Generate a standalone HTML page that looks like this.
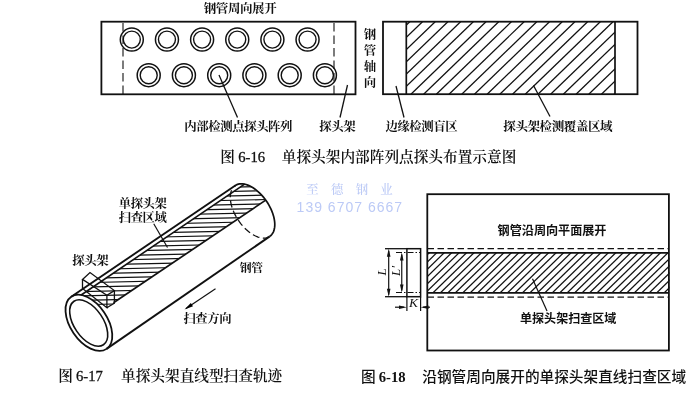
<!DOCTYPE html>
<html lang="zh-CN"><head><meta charset="utf-8"><title>图 6-16 ~ 6-18</title>
<style>
html,body{margin:0;padding:0;background:#fff;}
body{width:700px;height:400px;overflow:hidden;}
svg{display:block;will-change:transform;transform:translateZ(0);}
svg text{font-family:'Liberation Serif','Noto Serif CJK SC',serif;fill:#111;}
</style></head><body>
<svg width="700" height="400" viewBox="0 0 700 400">
<rect width="700" height="400" fill="#fff"/>
<g fill="none" stroke="#111" stroke-linecap="butt">
<g id="f16a">
<rect x="101.4" y="21.7" width="254.1" height="72.6" stroke-width="1.8"/>
<line x1="123.00" y1="23.00" x2="123.00" y2="94.50" stroke-width="1.1" stroke-dasharray="8.5 4"/>
<line x1="334.00" y1="23.00" x2="334.00" y2="94.50" stroke-width="1.1" stroke-dasharray="8.5 4"/>
<circle cx="131.8" cy="39.6" r="11.5" stroke-width="1.5"/><circle cx="131.8" cy="39.6" r="8.5" stroke-width="1.4"/>
<circle cx="166.95000000000002" cy="39.6" r="11.5" stroke-width="1.5"/><circle cx="166.95000000000002" cy="39.6" r="8.5" stroke-width="1.4"/>
<circle cx="202.10000000000002" cy="39.6" r="11.5" stroke-width="1.5"/><circle cx="202.10000000000002" cy="39.6" r="8.5" stroke-width="1.4"/>
<circle cx="237.25" cy="39.6" r="11.5" stroke-width="1.5"/><circle cx="237.25" cy="39.6" r="8.5" stroke-width="1.4"/>
<circle cx="272.4" cy="39.6" r="11.5" stroke-width="1.5"/><circle cx="272.4" cy="39.6" r="8.5" stroke-width="1.4"/>
<circle cx="307.55" cy="39.6" r="11.5" stroke-width="1.5"/><circle cx="307.55" cy="39.6" r="8.5" stroke-width="1.4"/>
<circle cx="148.7" cy="75.2" r="11.5" stroke-width="1.5"/><circle cx="148.7" cy="75.2" r="8.5" stroke-width="1.4"/>
<circle cx="183.9" cy="75.2" r="11.5" stroke-width="1.5"/><circle cx="183.9" cy="75.2" r="8.5" stroke-width="1.4"/>
<circle cx="219.2" cy="75.2" r="11.5" stroke-width="1.5"/><circle cx="219.2" cy="75.2" r="8.5" stroke-width="1.4"/>
<circle cx="254.4" cy="75.2" r="11.5" stroke-width="1.5"/><circle cx="254.4" cy="75.2" r="8.5" stroke-width="1.4"/>
<circle cx="289.7" cy="75.2" r="11.5" stroke-width="1.5"/><circle cx="289.7" cy="75.2" r="8.5" stroke-width="1.4"/>
<circle cx="324.9" cy="75.2" r="11.5" stroke-width="1.5"/><circle cx="324.9" cy="75.2" r="8.5" stroke-width="1.4"/>
<line x1="219.00" y1="75.00" x2="237.50" y2="117.50" stroke-width="1.3" />
<line x1="347.50" y1="85.00" x2="340.00" y2="117.50" stroke-width="1.3" />
</g>
<g id="f16b">
<clipPath id="c16"><rect x="406" y="22" width="209" height="72.5"/></clipPath>
<g clip-path="url(#c16)">
<line x1="233.12" y1="94.20" x2="308.20" y2="21.70" stroke-width="1.25" />
<line x1="245.82" y1="94.20" x2="320.90" y2="21.70" stroke-width="1.25" />
<line x1="258.52" y1="94.20" x2="333.60" y2="21.70" stroke-width="1.25" />
<line x1="271.22" y1="94.20" x2="346.30" y2="21.70" stroke-width="1.25" />
<line x1="283.92" y1="94.20" x2="359.00" y2="21.70" stroke-width="1.25" />
<line x1="296.62" y1="94.20" x2="371.70" y2="21.70" stroke-width="1.25" />
<line x1="309.32" y1="94.20" x2="384.40" y2="21.70" stroke-width="1.25" />
<line x1="322.02" y1="94.20" x2="397.10" y2="21.70" stroke-width="1.25" />
<line x1="334.72" y1="94.20" x2="409.80" y2="21.70" stroke-width="1.25" />
<line x1="347.42" y1="94.20" x2="422.50" y2="21.70" stroke-width="1.25" />
<line x1="360.12" y1="94.20" x2="435.20" y2="21.70" stroke-width="1.25" />
<line x1="372.82" y1="94.20" x2="447.90" y2="21.70" stroke-width="1.25" />
<line x1="385.52" y1="94.20" x2="460.60" y2="21.70" stroke-width="1.25" />
<line x1="398.22" y1="94.20" x2="473.30" y2="21.70" stroke-width="1.25" />
<line x1="410.92" y1="94.20" x2="486.00" y2="21.70" stroke-width="1.25" />
<line x1="423.62" y1="94.20" x2="498.70" y2="21.70" stroke-width="1.25" />
<line x1="436.32" y1="94.20" x2="511.40" y2="21.70" stroke-width="1.25" />
<line x1="449.02" y1="94.20" x2="524.10" y2="21.70" stroke-width="1.25" />
<line x1="461.72" y1="94.20" x2="536.80" y2="21.70" stroke-width="1.25" />
<line x1="474.42" y1="94.20" x2="549.50" y2="21.70" stroke-width="1.25" />
<line x1="487.12" y1="94.20" x2="562.20" y2="21.70" stroke-width="1.25" />
<line x1="499.82" y1="94.20" x2="574.90" y2="21.70" stroke-width="1.25" />
<line x1="512.52" y1="94.20" x2="587.60" y2="21.70" stroke-width="1.25" />
<line x1="525.22" y1="94.20" x2="600.30" y2="21.70" stroke-width="1.25" />
<line x1="537.92" y1="94.20" x2="613.00" y2="21.70" stroke-width="1.25" />
<line x1="550.62" y1="94.20" x2="625.70" y2="21.70" stroke-width="1.25" />
<line x1="563.32" y1="94.20" x2="638.40" y2="21.70" stroke-width="1.25" />
<line x1="576.02" y1="94.20" x2="651.10" y2="21.70" stroke-width="1.25" />
<line x1="588.72" y1="94.20" x2="663.80" y2="21.70" stroke-width="1.25" />
<line x1="601.42" y1="94.20" x2="676.50" y2="21.70" stroke-width="1.25" />
<line x1="614.12" y1="94.20" x2="689.20" y2="21.70" stroke-width="1.25" />
<line x1="626.82" y1="94.20" x2="701.90" y2="21.70" stroke-width="1.25" />
<line x1="639.52" y1="94.20" x2="714.60" y2="21.70" stroke-width="1.25" />
<line x1="652.22" y1="94.20" x2="727.30" y2="21.70" stroke-width="1.25" />
<line x1="664.92" y1="94.20" x2="740.00" y2="21.70" stroke-width="1.25" />
<line x1="677.62" y1="94.20" x2="752.70" y2="21.70" stroke-width="1.25" />
<line x1="690.32" y1="94.20" x2="765.40" y2="21.70" stroke-width="1.25" />
<line x1="703.02" y1="94.20" x2="778.10" y2="21.70" stroke-width="1.25" />
</g>
<rect x="383" y="21.7" width="254.5" height="72.5" stroke-width="1.8"/>
<line x1="406.30" y1="22.00" x2="406.30" y2="94.00" stroke-width="1.7" />
<line x1="615.00" y1="22.00" x2="615.00" y2="94.00" stroke-width="1.7" />
<line x1="396.00" y1="86.00" x2="404.00" y2="117.50" stroke-width="1.3" />
<line x1="533.50" y1="85.50" x2="550.00" y2="116.50" stroke-width="1.3" />
</g>
<g id="f17">
<clipPath id="c17"><polygon points="81.17,295.01 81.79,295.13 82.41,295.27 83.03,295.44 83.66,295.62 84.29,295.82 84.93,296.05 85.57,296.29 86.21,296.56 86.85,296.84 87.50,297.15 88.14,297.47 88.79,297.82 89.44,298.18 90.08,298.56 90.73,298.97 91.37,299.38 92.02,299.82 92.66,300.28 93.29,300.75 93.93,301.24 94.56,301.74 95.18,302.26 95.80,302.80 96.42,303.35 97.03,303.92 97.63,304.50 98.23,305.10 98.82,305.71 99.40,306.33 99.97,306.96 106.90,307.70 113.50,302.80 265.75,200.14 265.14,199.32 264.52,198.51 263.89,197.71 263.25,196.93 262.59,196.16 261.92,195.41 261.25,194.67 260.56,193.96 259.86,193.26 259.16,192.58 258.44,191.93 257.73,191.29 257.00,190.68 256.27,190.09 255.54,189.52 254.80,188.97 254.06,188.45 253.32,187.96 252.58,187.49 251.84,187.05 251.10,186.63 250.36,186.24 249.62,185.88 248.89,185.54 248.16,185.24 247.43,184.96 246.71,184.71 246.00,184.49 245.30,184.30 244.60,184.14"/></clipPath>
<g clip-path="url(#c17)">
<line x1="60.00" y1="182.00" x2="290.00" y2="177.00" stroke-width="1.2" />
<line x1="60.00" y1="186.40" x2="290.00" y2="181.40" stroke-width="1.2" />
<line x1="60.00" y1="190.80" x2="290.00" y2="185.80" stroke-width="1.2" />
<line x1="60.00" y1="195.20" x2="290.00" y2="190.20" stroke-width="1.2" />
<line x1="60.00" y1="199.60" x2="290.00" y2="194.60" stroke-width="1.2" />
<line x1="60.00" y1="204.00" x2="290.00" y2="199.00" stroke-width="1.2" />
<line x1="60.00" y1="208.40" x2="290.00" y2="203.40" stroke-width="1.2" />
<line x1="60.00" y1="212.80" x2="290.00" y2="207.80" stroke-width="1.2" />
<line x1="60.00" y1="217.20" x2="290.00" y2="212.20" stroke-width="1.2" />
<line x1="60.00" y1="221.60" x2="290.00" y2="216.60" stroke-width="1.2" />
<line x1="60.00" y1="226.00" x2="290.00" y2="221.00" stroke-width="1.2" />
<line x1="60.00" y1="230.40" x2="290.00" y2="225.40" stroke-width="1.2" />
<line x1="60.00" y1="234.80" x2="290.00" y2="229.80" stroke-width="1.2" />
<line x1="60.00" y1="239.20" x2="290.00" y2="234.20" stroke-width="1.2" />
<line x1="60.00" y1="243.60" x2="290.00" y2="238.60" stroke-width="1.2" />
<line x1="60.00" y1="248.00" x2="290.00" y2="243.00" stroke-width="1.2" />
<line x1="60.00" y1="252.40" x2="290.00" y2="247.40" stroke-width="1.2" />
<line x1="60.00" y1="256.80" x2="290.00" y2="251.80" stroke-width="1.2" />
<line x1="60.00" y1="261.20" x2="290.00" y2="256.20" stroke-width="1.2" />
<line x1="60.00" y1="265.60" x2="290.00" y2="260.60" stroke-width="1.2" />
<line x1="60.00" y1="270.00" x2="290.00" y2="265.00" stroke-width="1.2" />
<line x1="60.00" y1="274.40" x2="290.00" y2="269.40" stroke-width="1.2" />
<line x1="60.00" y1="278.80" x2="290.00" y2="273.80" stroke-width="1.2" />
<line x1="60.00" y1="283.20" x2="290.00" y2="278.20" stroke-width="1.2" />
<line x1="60.00" y1="287.60" x2="290.00" y2="282.60" stroke-width="1.2" />
<line x1="60.00" y1="292.00" x2="290.00" y2="287.00" stroke-width="1.2" />
<line x1="60.00" y1="296.40" x2="290.00" y2="291.40" stroke-width="1.2" />
<line x1="60.00" y1="300.80" x2="290.00" y2="295.80" stroke-width="1.2" />
<line x1="60.00" y1="305.20" x2="290.00" y2="300.20" stroke-width="1.2" />
<line x1="60.00" y1="309.60" x2="290.00" y2="304.60" stroke-width="1.2" />
<line x1="60.00" y1="314.00" x2="290.00" y2="309.00" stroke-width="1.2" />
<line x1="60.00" y1="318.40" x2="290.00" y2="313.40" stroke-width="1.2" />
<line x1="60.00" y1="322.80" x2="290.00" y2="317.80" stroke-width="1.2" />
<line x1="60.00" y1="327.20" x2="290.00" y2="322.20" stroke-width="1.2" />
<line x1="60.00" y1="331.60" x2="290.00" y2="326.60" stroke-width="1.2" />
</g>
<line x1="71.23" y1="296.72" x2="235.33" y2="185.52" stroke-width="1.9" />
<line x1="106.57" y1="348.88" x2="269.77" y2="236.35" stroke-width="1.9" />
<line x1="81.17" y1="295.01" x2="244.60" y2="184.14" stroke-width="1.6" />
<line x1="113.50" y1="302.80" x2="265.75" y2="200.14" stroke-width="1.7" />
<ellipse cx="88.90" cy="322.80" rx="31.5" ry="18.5" transform="rotate(55.88 88.90 322.80)" stroke-width="1.8" />
<ellipse cx="88.70" cy="323.00" rx="26.3" ry="14.5" transform="rotate(55.88 88.70 323.00)" stroke-width="1.6" />
<path d="M234.65 186.03 L235.76 185.25 L236.97 184.63 L238.29 184.18 L239.69 183.90 L241.18 183.79 L242.74 183.86 L244.36 184.10 L246.03 184.50 L247.75 185.08 L249.50 185.82 L251.26 186.72 L253.04 187.77 L254.81 188.98 L256.56 190.32 L258.29 191.79 L259.99 193.39 L261.64 195.09 L263.22 196.90 L264.75 198.80 L266.19 200.77 L267.55 202.81 L268.81 204.90 L269.97 207.03 L271.01 209.18 L271.94 211.34 L272.75 213.51 L273.43 215.65 L273.97 217.77 L274.38 219.84 L274.65 221.86 L274.78 223.80 L274.77 225.67 L274.61 227.44 L274.32 229.10 L273.89 230.65 L273.32 232.08 L272.62 233.37 L271.79 234.51 L270.84 235.51 L269.77 236.35" stroke-width="1.7" />
<path d="M231.55 190.33 L231.10 191.57 L230.76 192.89 L230.51 194.30 L230.36 195.78 L230.31 197.32 L230.36 198.93 L230.52 200.60 L230.77 202.31 L231.12 204.06 L231.57 205.84 L232.11 207.64 L232.75 209.46 L233.47 211.29 L234.28 213.11 L235.18 214.93 L236.15 216.72 L237.20 218.49 L238.31 220.23 L239.49 221.92 L240.73 223.57 L242.03 225.16 L243.37 226.68 L244.75 228.13 L246.17 229.50 L247.62 230.79 L249.09 231.99 L250.57 233.10 L252.07 234.10 L253.56 235.00 L255.05 235.79 L256.53 236.47 L258.00 237.03 L259.43 237.47 L260.84 237.80 L262.21 238.00 L263.53 238.08 L264.81 238.04 L266.03 237.87 L267.19 237.59 L268.28 237.18" stroke-width="1.3" stroke-dasharray="7 3.5"/>
<polygon points="82.5,279.4 90,272.6 114.4,290.6 106.9,295.2" stroke-width="1.3"/>
<path d="M82.5 279.4 L82.5 288.5 L106.9 307.7 L106.9 295.2 M106.9 307.7 L114.4 303.1 L114.4 290.6" stroke-width="1.3"/>
<line x1="153.75" y1="223.75" x2="167.50" y2="247.50" stroke-width="1.2" />
<line x1="215.50" y1="288.75" x2="186.00" y2="308.50" stroke-width="1.2" />
<polygon points="184.5,309.5 193,306.3 190.8,303" fill="#000" stroke="none"/>
</g>
<g id="f18">
<clipPath id="c18"><rect x="427.5" y="252.5" width="242" height="40.5"/></clipPath>
<g clip-path="url(#c18)">
<line x1="343.28" y1="293.00" x2="384.78" y2="252.50" stroke-width="1.25" />
<line x1="350.74" y1="293.00" x2="392.24" y2="252.50" stroke-width="1.25" />
<line x1="358.20" y1="293.00" x2="399.70" y2="252.50" stroke-width="1.25" />
<line x1="365.66" y1="293.00" x2="407.16" y2="252.50" stroke-width="1.25" />
<line x1="373.12" y1="293.00" x2="414.62" y2="252.50" stroke-width="1.25" />
<line x1="380.58" y1="293.00" x2="422.08" y2="252.50" stroke-width="1.25" />
<line x1="388.04" y1="293.00" x2="429.54" y2="252.50" stroke-width="1.25" />
<line x1="395.50" y1="293.00" x2="437.00" y2="252.50" stroke-width="1.25" />
<line x1="402.96" y1="293.00" x2="444.46" y2="252.50" stroke-width="1.25" />
<line x1="410.42" y1="293.00" x2="451.92" y2="252.50" stroke-width="1.25" />
<line x1="417.88" y1="293.00" x2="459.38" y2="252.50" stroke-width="1.25" />
<line x1="425.34" y1="293.00" x2="466.84" y2="252.50" stroke-width="1.25" />
<line x1="432.80" y1="293.00" x2="474.30" y2="252.50" stroke-width="1.25" />
<line x1="440.26" y1="293.00" x2="481.76" y2="252.50" stroke-width="1.25" />
<line x1="447.72" y1="293.00" x2="489.22" y2="252.50" stroke-width="1.25" />
<line x1="455.18" y1="293.00" x2="496.68" y2="252.50" stroke-width="1.25" />
<line x1="462.64" y1="293.00" x2="504.14" y2="252.50" stroke-width="1.25" />
<line x1="470.10" y1="293.00" x2="511.60" y2="252.50" stroke-width="1.25" />
<line x1="477.56" y1="293.00" x2="519.06" y2="252.50" stroke-width="1.25" />
<line x1="485.02" y1="293.00" x2="526.52" y2="252.50" stroke-width="1.25" />
<line x1="492.48" y1="293.00" x2="533.98" y2="252.50" stroke-width="1.25" />
<line x1="499.94" y1="293.00" x2="541.44" y2="252.50" stroke-width="1.25" />
<line x1="507.40" y1="293.00" x2="548.90" y2="252.50" stroke-width="1.25" />
<line x1="514.86" y1="293.00" x2="556.36" y2="252.50" stroke-width="1.25" />
<line x1="522.32" y1="293.00" x2="563.82" y2="252.50" stroke-width="1.25" />
<line x1="529.78" y1="293.00" x2="571.28" y2="252.50" stroke-width="1.25" />
<line x1="537.24" y1="293.00" x2="578.74" y2="252.50" stroke-width="1.25" />
<line x1="544.70" y1="293.00" x2="586.20" y2="252.50" stroke-width="1.25" />
<line x1="552.16" y1="293.00" x2="593.66" y2="252.50" stroke-width="1.25" />
<line x1="559.62" y1="293.00" x2="601.12" y2="252.50" stroke-width="1.25" />
<line x1="567.08" y1="293.00" x2="608.58" y2="252.50" stroke-width="1.25" />
<line x1="574.54" y1="293.00" x2="616.04" y2="252.50" stroke-width="1.25" />
<line x1="582.00" y1="293.00" x2="623.50" y2="252.50" stroke-width="1.25" />
<line x1="589.46" y1="293.00" x2="630.96" y2="252.50" stroke-width="1.25" />
<line x1="596.92" y1="293.00" x2="638.42" y2="252.50" stroke-width="1.25" />
<line x1="604.38" y1="293.00" x2="645.88" y2="252.50" stroke-width="1.25" />
<line x1="611.84" y1="293.00" x2="653.34" y2="252.50" stroke-width="1.25" />
<line x1="619.30" y1="293.00" x2="660.80" y2="252.50" stroke-width="1.25" />
<line x1="626.76" y1="293.00" x2="668.26" y2="252.50" stroke-width="1.25" />
<line x1="634.22" y1="293.00" x2="675.72" y2="252.50" stroke-width="1.25" />
<line x1="641.68" y1="293.00" x2="683.18" y2="252.50" stroke-width="1.25" />
<line x1="649.14" y1="293.00" x2="690.64" y2="252.50" stroke-width="1.25" />
<line x1="656.60" y1="293.00" x2="698.10" y2="252.50" stroke-width="1.25" />
<line x1="664.06" y1="293.00" x2="705.56" y2="252.50" stroke-width="1.25" />
<line x1="671.52" y1="293.00" x2="713.02" y2="252.50" stroke-width="1.25" />
<line x1="678.98" y1="293.00" x2="720.48" y2="252.50" stroke-width="1.25" />
<line x1="686.44" y1="293.00" x2="727.94" y2="252.50" stroke-width="1.25" />
</g>
<rect x="427.3" y="194.2" width="241.6" height="156.3" stroke-width="1.8"/>
<line x1="427.50" y1="252.80" x2="668.90" y2="252.80" stroke-width="1.7" />
<line x1="427.50" y1="292.90" x2="668.90" y2="292.90" stroke-width="1.7" />
<line x1="427.50" y1="248.70" x2="668.90" y2="248.70" stroke-width="1.3" stroke-dasharray="6.5 3.5"/>
<line x1="427.50" y1="297.10" x2="668.90" y2="297.10" stroke-width="1.3" stroke-dasharray="6.5 3.5"/>
<rect x="406.9" y="248.7" width="13.7" height="48" stroke-width="1.5"/>
<line x1="385.00" y1="248.70" x2="406.90" y2="248.70" stroke-width="1.3" />
<line x1="385.00" y1="296.70" x2="406.90" y2="296.70" stroke-width="1.3" />
<line x1="396.00" y1="252.50" x2="420.50" y2="252.50" stroke-width="1.1" stroke-dasharray="6 2 1.5 2"/>
<line x1="396.00" y1="292.50" x2="420.50" y2="292.50" stroke-width="1.1" stroke-dasharray="6 2 1.5 2"/>
<line x1="388.70" y1="250.70" x2="388.70" y2="294.70" stroke-width="1.2" />
<polygon points="388.7,248.7 386.9,256.7 390.5,256.7" fill="#111" stroke="none"/>
<polygon points="388.7,296.7 386.9,288.7 390.5,288.7" fill="#111" stroke="none"/>
<line x1="401.75" y1="254.50" x2="401.75" y2="290.50" stroke-width="1.2" />
<polygon points="401.75,252.5 399.95,260.5 403.55,260.5" fill="#111" stroke="none"/>
<polygon points="401.75,292.5 399.95,284.5 403.55,284.5" fill="#111" stroke="none"/>
<line x1="406.90" y1="297.00" x2="406.90" y2="311.00" stroke-width="1.2" />
<line x1="420.60" y1="297.00" x2="420.60" y2="311.00" stroke-width="1.2" />
<line x1="395.00" y1="307.20" x2="404.00" y2="307.20" stroke-width="1.2" />
<line x1="423.00" y1="307.20" x2="430.00" y2="307.20" stroke-width="1.2" />
<polygon points="406.9,307.2 399,305.4 399,309" fill="#111" stroke="none"/>
<polygon points="420.6,307.2 428.5,305.4 428.5,309" fill="#111" stroke="none"/>
<line x1="532.50" y1="278.75" x2="547.00" y2="311.00" stroke-width="1.2" />
</g>
</g>
<g>
<text x="306.3" y="193.6" font-size="12.4" font-weight="500" style="fill:#bccaf6" letter-spacing="12.3">至德钢业</text>
<text x="296.6" y="211.5" font-size="14" font-weight="400" style="fill:#bccaf6;font-family:'Liberation Sans','Noto Sans CJK SC',sans-serif" letter-spacing="1">139 6707 6667</text>
<text x="203.70" y="13.00" font-size="12.5" font-weight="700" text-anchor="start" letter-spacing="-0.4">钢管周向展开</text>
<text x="363.80" y="39.00" font-size="12.4" font-weight="700" text-anchor="start" >钢</text>
<text x="363.80" y="55.00" font-size="12.4" font-weight="700" text-anchor="start" >管</text>
<text x="363.80" y="71.00" font-size="12.4" font-weight="700" text-anchor="start" >轴</text>
<text x="363.80" y="87.00" font-size="12.4" font-weight="700" text-anchor="start" >向</text>
<text x="184.20" y="130.50" font-size="12.4" font-weight="700" text-anchor="start" letter-spacing="-0.4">内部检测点探头阵列</text>
<text x="319.20" y="130.50" font-size="12.4" font-weight="700" text-anchor="start" letter-spacing="-0.4">探头架</text>
<text x="385.40" y="130.50" font-size="12.4" font-weight="700" text-anchor="start" letter-spacing="-0.4">边缘检测盲区</text>
<text x="503.30" y="130.50" font-size="12.5" font-weight="700" text-anchor="start" letter-spacing="-0.4">探头架检测覆盖区域</text>
<text x="220.30" y="162.30" font-size="14.67" font-weight="600" text-anchor="start" >图</text>
<text x="238.25" y="162.30" font-size="14.67" font-weight="400" text-anchor="start" stroke="#111" stroke-width="0.3">6-16</text>
<text x="281.80" y="162.30" font-size="14.67" font-weight="600" text-anchor="start" >单探头架内部阵列点探头布置示意图</text>
<text x="118.80" y="207.70" font-size="12.3" font-weight="700" text-anchor="start" letter-spacing="-0.4">单探头架</text>
<text x="118.80" y="221.80" font-size="12.3" font-weight="700" text-anchor="start" letter-spacing="-0.4">扫查区域</text>
<text x="72.20" y="265.00" font-size="12.4" font-weight="700" text-anchor="start" letter-spacing="-0.4">探头架</text>
<text x="239.70" y="271.50" font-size="11.9" font-weight="700" text-anchor="start" letter-spacing="-0.4">钢管</text>
<text x="183.45" y="322.50" font-size="12.3" font-weight="700" text-anchor="start" letter-spacing="-0.4">扫查方向</text>
<text x="58.30" y="380.80" font-size="14.67" font-weight="600" text-anchor="start" >图</text>
<text x="76.00" y="380.80" font-size="14.67" font-weight="400" text-anchor="start" stroke="#111" stroke-width="0.3">6-17</text>
<text x="121.00" y="380.80" font-size="14.67" font-weight="600" text-anchor="start" >单探头架直线型扫查轨迹</text>
<text x="497.6" y="235.2" font-size="12.1" font-weight="700" style="font-family:'Liberation Sans','Noto Sans CJK SC',sans-serif">钢管沿周向平面展开</text>
<text x="520" y="322.8" font-size="12.05" font-weight="700" style="font-family:'Liberation Sans','Noto Sans CJK SC',sans-serif">单探头架扫查区域</text>
<text x="361" y="381.9" font-size="14.67" font-weight="500" style="font-family:'Liberation Sans','Noto Sans CJK SC',sans-serif">图</text>
<text x="378.75" y="381.9" font-size="14.67" font-weight="700">6-18</text>
<text x="422.3" y="381.9" font-size="14.67" font-weight="500" style="font-family:'Liberation Sans','Noto Sans CJK SC',sans-serif">沿钢管周向展开的单探头架直线扫查区域</text>
<text transform="translate(386,272) rotate(-90)" font-size="13" font-style="italic" font-weight="400" text-anchor="middle">L</text>
<text transform="translate(400,271) rotate(-90)" font-size="13" font-style="italic" font-weight="400" text-anchor="middle">L′</text>
<text x="413.40" y="306.60" font-size="13.5" font-weight="400" text-anchor="middle" font-style="italic">K</text>
</g>
</svg>
</body></html>
